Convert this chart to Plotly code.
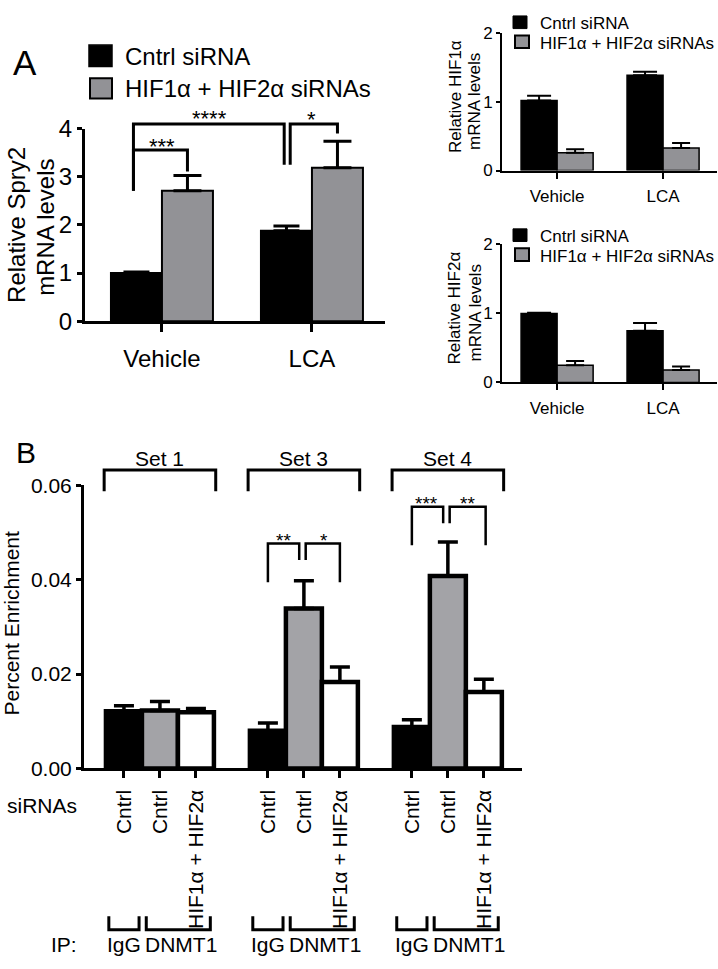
import plotly.graph_objects as go

W, H = 718, 969
FONT = "Liberation Sans, Arial, Helvetica, sans-serif"

# ---------------- data ----------------
a_categories = ["Vehicle", "LCA"]
series_names = ["Cntrl siRNA", "HIF1α + HIF2α siRNAs"]

spry2_cntrl = [1.00, 1.88]
spry2_cntrl_err = [0.02, 0.10]
spry2_hif = [2.71, 3.19]
spry2_hif_err = [0.32, 0.55]
spry2_ticks = [0, 1, 2, 3, 4]

hif1_cntrl = [1.02, 1.39]
hif1_cntrl_err = [0.07, 0.05]
hif1_hif = [0.26, 0.33]
hif1_hif_err = [0.05, 0.07]

hif2_cntrl = [1.00, 0.75]
hif2_cntrl_err = [0.01, 0.11]
hif2_hif = [0.25, 0.18]
hif2_hif_err = [0.06, 0.05]
small_ticks = [0, 1, 2]

b_sets = ["Set 1", "Set 3", "Set 4"]
b_sirna_labels = ["Cntrl", "Cntrl", "HIF1α + HIF2α"]
b_ip_labels = ["IgG", "DNMT1"]
b_igg_cntrl = [0.0121, 0.0080, 0.0088]
b_igg_cntrl_err = [0.0012, 0.0016, 0.0015]
b_dnmt1_cntrl = [0.0123, 0.0339, 0.0408]
b_dnmt1_cntrl_err = [0.0019, 0.0059, 0.0072]
b_dnmt1_hif = [0.0119, 0.0183, 0.0162]
b_dnmt1_hif_err = [0.0008, 0.0032, 0.0027]
b_ticks = [0.00, 0.02, 0.04, 0.06]

# ---------------- layout geometry (pixels) ----------------
P = {
    "A": dict(xa="x", ya="y", xpx=(85, 385), ypx=(316, 118), xr=(-0.513, 1.487), yr=(0, 4)),
    "T": dict(xa="x2", ya="y2", xpx=(502, 717), ypx=(161, 20), xr=(-0.52, 1.509), yr=(0, 2)),
    "R": dict(xa="x3", ya="y3", xpx=(502, 717), ypx=(379, 237), xr=(-0.52, 1.509), yr=(0, 2)),
    "B": dict(xa="x4", ya="y4", xpx=(84, 522), ypx=(776, 485), xr=(-1.11, 11.06), yr=(0, 0.06)),
}

def px_x(p, x):
    x0, x1 = p["xpx"]; r0, r1 = p["xr"]
    return x0 + (x - r0) / (r1 - r0) * (x1 - x0)

def px_y(p, y):
    yb, yt = p["ypx"]; r0, r1 = p["yr"]
    return yb - (y - r0) / (r1 - r0) * (yb - yt)

def fx(px):
    return px / W

def fy(py):
    return 1 - py / H

fig = go.Figure()

GRAY_A = "#929296"
GRAY_B = "#a3a3a7"


def add_bar(p, name, x, y, err, color, lw, width, capw, thick):
    fig.add_trace(go.Bar(
        name=name, x=x, y=y, width=width,
        marker=dict(color=color, line=dict(color="black", width=lw)),
        error_y=dict(type="data", array=err, arrayminus=[0] * len(err), symmetric=False,
                     color="black", thickness=thick, width=capw),
        xaxis=p["xa"], yaxis=p["ya"], showlegend=False, cliponaxis=False,
    ))

idx = list(range(len(a_categories)))
# Panel A main
add_bar(P["A"], series_names[0], [i - 0.17 for i in idx], spry2_cntrl, spry2_cntrl_err, "black", 2, 0.34, 13, 3)
add_bar(P["A"], series_names[1], [i + 0.17 for i in idx], spry2_hif, spry2_hif_err, GRAY_A, 2, 0.34, 14, 3)
# HIF1a
add_bar(P["T"], series_names[0], [i - 0.17 for i in idx], hif1_cntrl, hif1_cntrl_err, "black", 1.5, 0.34, 12, 2)
add_bar(P["T"], series_names[1], [i + 0.17 for i in idx], hif1_hif, hif1_hif_err, GRAY_A, 1.5, 0.34, 9, 2)
# HIF2a
add_bar(P["R"], series_names[0], [i - 0.17 for i in idx], hif2_cntrl, hif2_cntrl_err, "black", 1.5, 0.34, 12, 2)
add_bar(P["R"], series_names[1], [i + 0.17 for i in idx], hif2_hif, hif2_hif_err, GRAY_A, 1.5, 0.34, 9, 2)
# Panel B
gidx = list(range(len(b_sets)))
add_bar(P["B"], "IgG / Cntrl", [4 * g for g in gidx], b_igg_cntrl, b_igg_cntrl_err, "black", 4.5, 1, 10, 3.5)
add_bar(P["B"], "DNMT1 / Cntrl", [4 * g + 1 for g in gidx], b_dnmt1_cntrl, b_dnmt1_cntrl_err, GRAY_B, 4.5, 1, 10, 3.5)
add_bar(P["B"], "DNMT1 / HIF1α + HIF2α", [4 * g + 2 for g in gidx], b_dnmt1_hif, b_dnmt1_hif_err, "white", 4.5, 1, 10, 3.5)

common = dict(showline=True, linecolor="black", ticks="outside", tickcolor="black",
              showgrid=False, zeroline=False, fixedrange=True)


def axes(p, xkw, ykw):
    xname = "xaxis" + p["xa"][1:]
    yname = "yaxis" + p["ya"][1:]
    xd = dict(common, domain=[fx(p["xpx"][0]), fx(p["xpx"][1])], range=list(p["xr"]), anchor=p["ya"])
    yd = dict(common, domain=[fy(p["ypx"][0]), fy(p["ypx"][1])], range=list(p["yr"]), anchor=p["xa"])
    xd.update(xkw); yd.update(ykw)
    fig.update_layout(**{xname: xd, yname: yd})

axes(P["A"],
     dict(tickvals=idx, ticktext=a_categories, linewidth=3, tickwidth=3, ticklen=8,
          tickfont=dict(size=24, family=FONT, color="black"), ticklabelstandoff=6),
     dict(tickvals=spry2_ticks, linewidth=3, tickwidth=3, ticklen=5,
          tickfont=dict(size=24, family=FONT, color="black"), ticklabelstandoff=0))
for key in ["T", "R"]:
    axes(P[key],
         dict(tickvals=idx, ticktext=a_categories, linewidth=2, tickwidth=2, ticklen=6,
              tickfont=dict(size=17, family=FONT, color="black"), ticklabelstandoff=3),
         dict(tickvals=small_ticks, linewidth=2, tickwidth=2, ticklen=4,
              tickfont=dict(size=17, family=FONT, color="black"), ticklabelstandoff=0))
b_tickvals = [4 * g + k for g in gidx for k in range(3)]
axes(P["B"],
     dict(tickvals=b_tickvals, ticktext=b_sirna_labels * len(b_sets), tickangle=-90,
          linewidth=3, tickwidth=3, ticklen=7,
          tickfont=dict(size=21, family=FONT, color="black"), ticklabelstandoff=3),
     dict(tickvals=b_ticks, tickformat=".2f", linewidth=3, tickwidth=3, ticklen=5,
          tickfont=dict(size=21, family=FONT, color="black"), ticklabelstandoff=0))

shapes = []
annotations = []


def ann(text, xpx, ypx, size, xanchor="center", yanchor="middle", angle=0):
    annotations.append(dict(text=text, x=fx(xpx), y=fy(ypx), xref="paper", yref="paper",
                            showarrow=False, xanchor=xanchor, yanchor=yanchor, textangle=angle,
                            font=dict(size=size, family=FONT, color="black")))


def path(points, width):
    d = "M " + " L ".join(f"{fx(a):.5f},{fy(b):.5f}" for a, b in points)
    shapes.append(dict(type="path", path=d, xref="paper", yref="paper",
                       line=dict(color="black", width=width), fillcolor="rgba(0,0,0,0)"))


def rect(x0, y0, x1, y1, color, lw):
    shapes.append(dict(type="rect", x0=fx(x0), x1=fx(x1), y0=fy(y1), y1=fy(y0), xref="paper", yref="paper",
                       fillcolor=color, line=dict(color="black", width=lw)))


def sig(p, x0, x1, yl, ytop, yr, label, size, width, lab_x, lab_ypx_off):
    path([(px_x(p, x0), px_y(p, yl)), (px_x(p, x0), px_y(p, ytop)),
          (px_x(p, x1), px_y(p, ytop)), (px_x(p, x1), px_y(p, yr))], width)
    ann(label, px_x(p, lab_x), px_y(p, ytop) - lab_ypx_off, size)

# ---- Panel A main ----
ann("A", 25, 50, 35)
rect(89, 32, 112, 54, "black", 1.5)
rect(90, 66, 112, 87, GRAY_A, 2)
ann(series_names[0], 123, 44, 24, xanchor="left")
ann(series_names[1], 123, 77, 24, xanchor="left")
ann("Relative Spry2", 17, 217, 24, angle=-90)
ann("mRNA levels", 46, 220, 24, angle=-90)
pa = P["A"]
sig(pa, -0.19, 0.17, 2.71, 3.56, 3.11, "***", 22, 3, 0.0, 3)
sig(pa, -0.19, 0.815, 2.71, 4.10, 3.25, "****", 22, 3, 0.32, 6)
sig(pa, 0.855, 1.17, 3.25, 4.10, 3.90, "*", 22, 3, 1.0, 5)

# ---- right panels ----
for key, ytxt, title in [("T", 0, "Relative HIF1α"), ("R", 219, "Relative HIF2α")]:
    rect(513, ytxt + 2, 527, ytxt + 15, "black", 1)
    rect(515, ytxt + 22, 529, ytxt + 35, GRAY_A, 2)
    ann(series_names[0], 538, ytxt + 10, 17, xanchor="left")
    ann(series_names[1], 538, ytxt + 30, 17, xanchor="left")
    p = P[key]
    yc = (p["ypx"][0] + p["ypx"][1]) / 2
    ann(title, 455, yc - 5, 17, angle=-90)
    ann("mRNA levels", 475, yc, 17, angle=-90)

# ---- Panel B ----
pb = P["B"]
ann("B", 26, 451, 30)
ann("Percent Enrichment", 12, 627, 21, angle=-90)
for g, name in enumerate(b_sets):
    x0 = px_x(pb, 4 * g - 0.55)
    x1 = px_x(pb, 4 * g + 2.55)
    path([(x0, 491), (x0, 469), (x1, 469), (x1, 491)], 3)
    ann(name, (x0 + x1) / 2, 457, 21)
    # IP brackets
    a0, a1 = px_x(pb, 4 * g - 0.42), px_x(pb, 4 * g + 0.42)
    path([(a0, 928), (a0, 942), (a1, 942), (a1, 928)], 3)
    b0, b1 = px_x(pb, 4 * g + 0.62), px_x(pb, 4 * g + 2.4)
    path([(b0, 928), (b0, 942), (b1, 942), (b1, 928)], 3)
    ann(b_ip_labels[0], px_x(pb, 4 * g), 957, 21)
    ann(b_ip_labels[1], px_x(pb, 4 * g + 1.58), 957, 21)

ann("siRNAs", 79, 814, 21, xanchor="right")
ann("IP:", 79, 957, 21, xanchor="right")

sig(pb, 4.0, 4.87, 0.0395, 0.0477, 0.0442, "**", 19, 2.5, 4.42, 3)
sig(pb, 5.05, 6.0, 0.0442, 0.0477, 0.0395, "*", 19, 2.5, 5.55, 3)
sig(pb, 8.0, 8.87, 0.0473, 0.0555, 0.0520, "***", 19, 2.5, 8.42, 3)
sig(pb, 9.05, 10.05, 0.0520, 0.0555, 0.0473, "**", 19, 2.5, 9.55, 3)

fig.update_layout(
    width=W, height=H, margin=dict(l=0, r=0, t=0, b=0),
    paper_bgcolor="white", plot_bgcolor="white",
    barmode="overlay", showlegend=False,
    font=dict(family=FONT, color="black"),
    shapes=shapes, annotations=annotations,
)

fig.write_html("out.html", config={"displayModeBar": False},
               post_script="document.body.style.margin='0px';")
